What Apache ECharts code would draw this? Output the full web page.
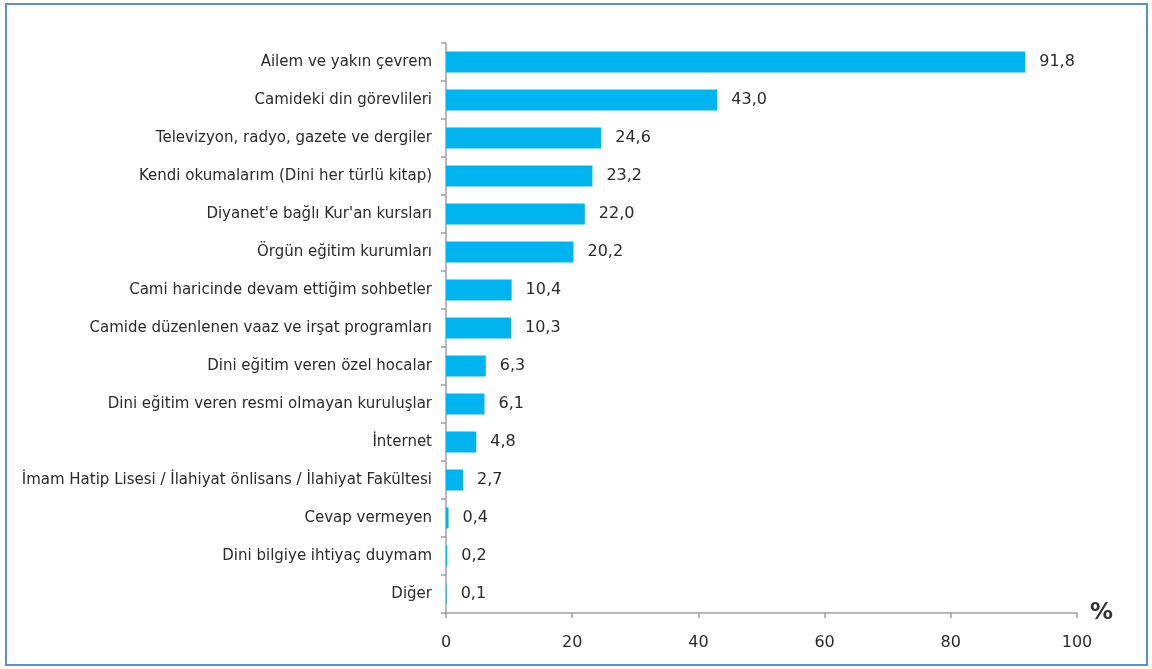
<!DOCTYPE html>
<html>
<head>
<meta charset="utf-8">
<script src="https://cdn.jsdelivr.net/npm/echarts@6/dist/echarts.min.js"></script>
<style>
html,body{margin:0;padding:0;background:#fff;}
#frame{position:absolute;left:5px;top:3px;width:1143px;height:663px;border:2px solid #5b8fc9;box-sizing:border-box;}
#chart{position:absolute;left:0;top:0;width:1152px;height:669px;}
</style>
</head>
<body>
<div id="frame"></div>
<div id="chart"></div>
<script>
const categories = [
  "Ailem ve yakın çevrem",
  "Camideki din görevlileri",
  "Televizyon, radyo, gazete ve dergiler",
  "Kendi okumalarım (Dini her türlü kitap)",
  "Diyanet'e bağlı Kur'an kursları",
  "Örgün eğitim kurumları",
  "Cami haricinde devam ettiğim sohbetler",
  "Camide düzenlenen vaaz ve irşat programları",
  "Dini eğitim veren özel hocalar",
  "Dini eğitim veren resmi olmayan kuruluşlar",
  "İnternet",
  "İmam Hatip Lisesi / İlahiyat önlisans / İlahiyat Fakültesi",
  "Cevap vermeyen",
  "Dini bilgiye ihtiyaç duymam",
  "Diğer"
];
const values = [91.8, 43.0, 24.6, 23.2, 22.0, 20.2, 10.4, 10.3, 6.3, 6.1, 4.8, 2.7, 0.4, 0.2, 0.1];
const xTicks = [0, 20, 40, 60, 80, 100];

const chart = echarts.init(document.getElementById('chart'), null, {renderer: 'canvas'});
const font = "'DejaVu Sans', sans-serif";
chart.setOption({
  animation: false,
  grid: {left: 446, right: 75, top: 43, bottom: 56, containLabel: false},
  xAxis: {
    type: 'value', min: 0, max: 100, interval: 20,
    name: '%', nameLocation: 'end', nameGap: 13,
    nameTextStyle: {fontSize: 23, fontWeight: 'bold', color: '#333', fontFamily: font, verticalAlign: 'middle'},
    axisLine: {show: true, lineStyle: {color: '#a0a0a0', width: 1.5}},
    axisTick: {show: true, length: 5, lineStyle: {color: '#a0a0a0', width: 1.5}},
    splitLine: {show: false},
    axisLabel: {fontSize: 16, color: '#2a2a2a', margin: 22, fontFamily: font,
      formatter: v => xTicks.includes(v) ? String(v) : ''}
  },
  yAxis: {
    type: 'category', data: categories, inverse: true,
    axisLine: {show: true, lineStyle: {color: '#a0a0a0', width: 1.5}},
    axisTick: {show: true, length: 5, alignWithLabel: false, lineStyle: {color: '#a0a0a0', width: 1.5}},
    axisLabel: {fontSize: 15, color: '#2a2a2a', margin: 14, fontFamily: font}
  },
  series: [{
    type: 'bar', data: values, barWidth: 21,
    itemStyle: {color: '#00b4ef'},
    label: {show: true, position: 'right', distance: 14, fontSize: 16, color: '#2a2a2a', fontFamily: font,
      formatter: p => p.value.toFixed(1).replace('.', ',')}
  }]
});
</script>
</body>
</html>
